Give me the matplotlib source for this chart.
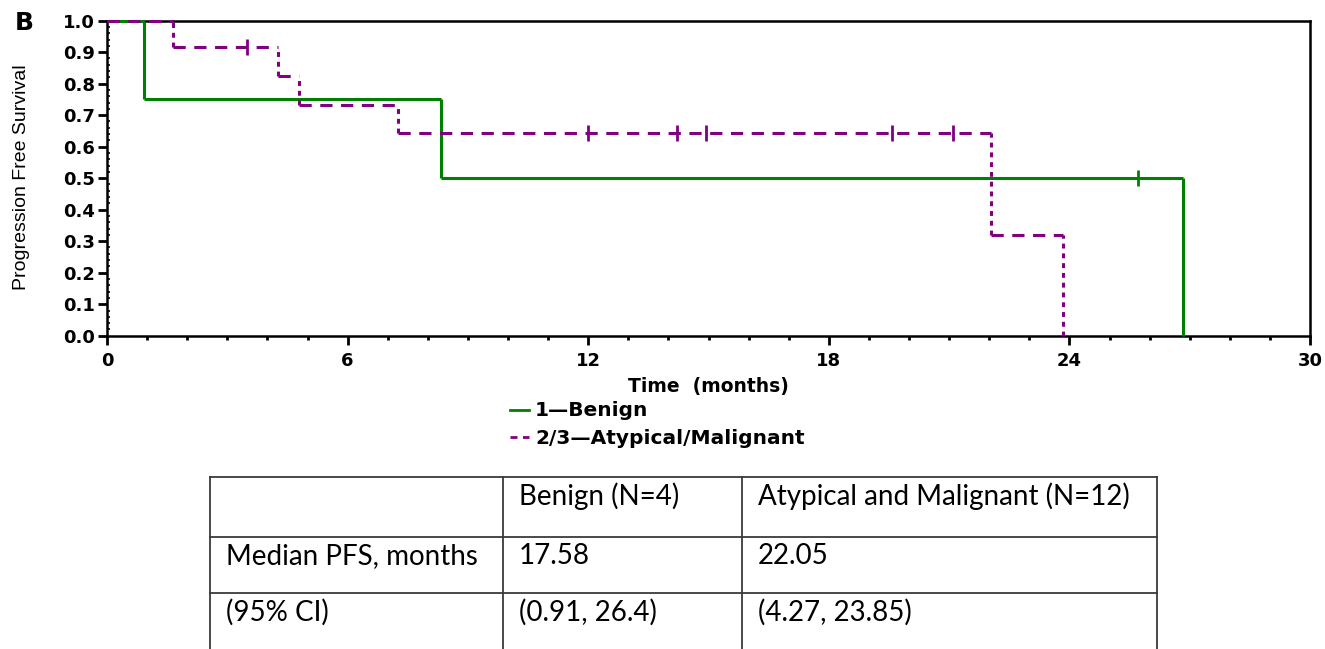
import numpy as np
import matplotlib
matplotlib.use("Agg")
import matplotlib.pyplot as plt
from matplotlib.lines import Line2D

# ---- data ----
benign_times = [0.0, 0.92, 8.32, 26.84]
benign_surv = [1.0, 0.75, 0.5, 0.0]
benign_censor = [25.72]

atyp_times = [0.0, 1.65, 4.27, 4.80, 7.26, 22.04, 23.85]
atyp_surv = [1.0, 0.917, 0.825, 0.733, 0.642, 0.321, 0.0]
atyp_censor = [3.48, 11.99, 14.21, 14.94, 19.57, 21.10]

x_ticks = [0, 6, 12, 18, 24, 30]
y_ticks = [0.0, 0.1, 0.2, 0.3, 0.4, 0.5, 0.6, 0.7, 0.8, 0.9, 1.0]

legend_labels = ["1\u2014Benign", "2/3\u2014Atypical/Malignant"]

table_header = ["", "Benign (N=4)", "Atypical and Malignant (N=12)"]
table_rows = [["Median PFS, months", "17.58", "22.05"],
              ["(95% CI)", "(0.91, 26.4)", "(4.27, 23.85)"]]

GREEN = "#008000"
PURPLE = "#800080"
BOLD_FONT = ['DejaVu Sans']

W, H = 1325, 649
fig = plt.figure(figsize=(W / 100, H / 100), dpi=100)
plt.rcParams['font.family'] = ['Liberation Sans', 'DejaVu Sans']


def fx(px):
    return px / W


def fy(py):
    return 1 - py / H


ax = fig.add_axes([fx(107), fy(335.7), fx(1310 - 107), (335.7 - 20.7) / H])
ax.set_xlim(0, 30)
ax.set_ylim(0, 1)


def step_value(times, surv, t):
    idx = np.searchsorted(times, t, side='right') - 1
    return surv[idx]


def draw_km(times, surv, censor, color, dashed):
    times = np.asarray(times)
    surv = np.asarray(surv)
    hkw = dict(color=color, lw=2.2, clip_on=False, zorder=3)
    vkw = dict(color=color, lw=2.2, clip_on=False, zorder=3)
    if dashed:
        hkw['linestyles'] = [(0, (4.0, 2.8))]
        vkw['linestyles'] = [(0, (1.6, 1.6))]
    ax.hlines(surv[:-1], times[:-1], times[1:], **hkw)
    ax.vlines(times[1:], surv[1:], surv[:-1], **vkw)
    cy = [step_value(times, surv, c) for c in censor]
    ax.plot(censor, cy, linestyle='none', marker='|', markersize=11,
            markeredgewidth=2.0, color=color, clip_on=False, zorder=4)


draw_km(benign_times, benign_surv, benign_censor, GREEN, dashed=False)
draw_km(atyp_times, atyp_surv, atyp_censor, PURPLE, dashed=True)

for s in ax.spines.values():
    s.set_linewidth(1.8)
    s.set_color('black')

ax.set_xticks(x_ticks)
ax.set_xticklabels([str(t) for t in x_ticks])
ax.set_xticks(np.arange(0, 31, 1), minor=True)
ax.set_yticks(y_ticks)
ax.set_yticklabels([f"{v:.1f}" for v in y_ticks])
ax.set_yticks(np.arange(0, 1.001, 0.02), minor=True)
ax.tick_params(axis='both', which='major', direction='out', length=6.5, width=2,
               labelsize=13, pad=2)
ax.tick_params(axis='x', which='minor', direction='out', length=3, width=2)
ax.tick_params(axis='y', which='minor', direction='in', length=2, width=1.2)
ax.tick_params(axis='x', which='major', pad=5)
for lab in ax.get_xticklabels() + ax.get_yticklabels():
    lab.set_fontweight('bold')
    lab.set_family(BOLD_FONT)

ax.set_xlabel("Time  (months)", fontsize=13.5, fontweight='bold', family=BOLD_FONT,
              labelpad=5)

fig.text(fx(22), fy(177.5), "Progression Free Survival", fontsize=14,
         rotation=90, ha='center', va='center')

fig.text(fx(24), fy(23), "B", fontsize=18, fontweight='bold', family=BOLD_FONT,
         ha='center', va='center')

# legend
leg_x0, leg_x1 = 510, 529
fig.add_artist(Line2D([fx(leg_x0), fx(leg_x1)], [fy(410), fy(410)], color=GREEN, lw=2))
fig.add_artist(Line2D([fx(leg_x0), fx(leg_x1)], [fy(437), fy(437)], color=PURPLE, lw=2,
                      linestyle=(0, (2.5, 2.0))))
fig.text(fx(535), fy(411), legend_labels[0], fontsize=14.5, fontweight='bold',
         family=BOLD_FONT, va='center')
fig.text(fx(535), fy(438), legend_labels[1], fontsize=14.5, fontweight='bold',
         family=BOLD_FONT, va='center')

# table
col_x = [210, 503, 742, 1157]
row_y = [477, 537, 593, 649]
lc = "#3a3a3a"
for x in col_x:
    fig.add_artist(Line2D([fx(x), fx(x)], [fy(row_y[0]), fy(row_y[-1])], color=lc, lw=1.3))
for y in row_y[:-1]:
    fig.add_artist(Line2D([fx(col_x[0]), fx(col_x[-1])], [fy(y), fy(y)], color=lc, lw=1.3))

all_rows = [table_header] + table_rows
for r, row in enumerate(all_rows):
    for c, txt in enumerate(row):
        if not txt:
            continue
        fig.text(fx(col_x[c] + 16), fy(row_y[r] + 19), txt, fontsize=20,
                 family=['Lato', 'DejaVu Sans'], va='center', ha='left')

fig.savefig("out.png", dpi=100)
